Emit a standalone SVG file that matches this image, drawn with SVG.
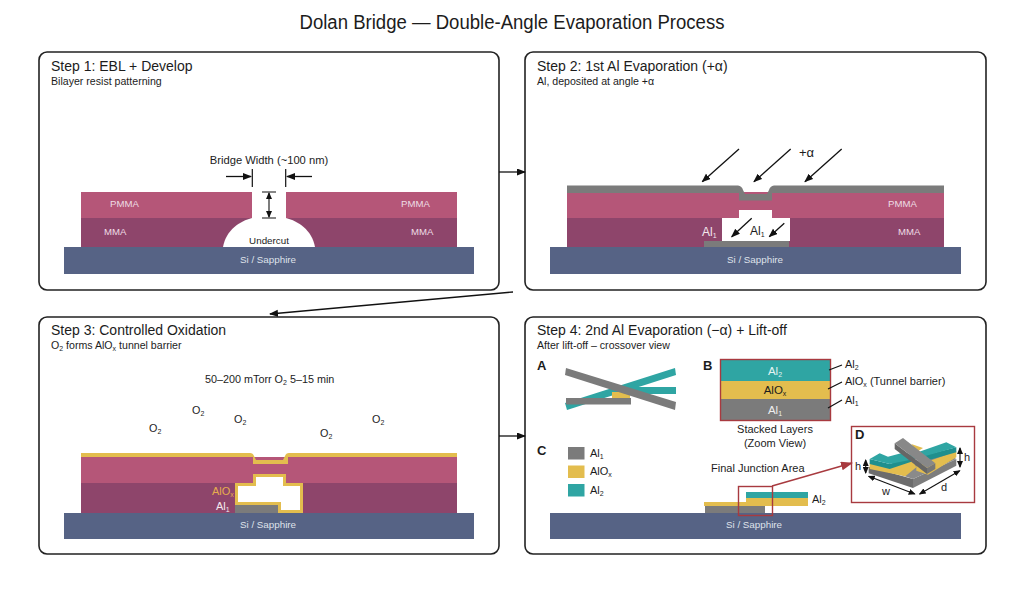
<svg xmlns="http://www.w3.org/2000/svg" width="1024" height="597" viewBox="0 0 1024 597">
<defs>
<style>
text{font-family:"Liberation Sans",Arial,sans-serif;fill:#1c1c1c}
.panel{fill:#fff;stroke:#222;stroke-width:1.6}
.h{font-size:14px}.s{font-size:10.6px}
.pmma{fill:#b55678}.mma{fill:#8e456b}.sub{fill:#566385}
.al1{fill:#7b7b7b}.ox{fill:#e3bd4e}.al2{fill:#2fa5a3}.w{fill:#fff}
.l{font-size:9.6px;fill:#eeddE5}.si{font-size:9.8px;fill:#dfe2ea;text-anchor:middle}
.t{font-size:11px}.c{text-anchor:middle}.b{font-size:13px;font-weight:bold}
.arr{stroke:#111;stroke-width:1.3;fill:none;marker-end:url(#a)}
.dbl{stroke:#111;stroke-width:1.1;fill:none;marker-end:url(#m);marker-start:url(#m)}
.tick{stroke:#111;stroke-width:1.2;fill:none}
.con{stroke:#111;stroke-width:1.3;fill:none;marker-end:url(#a)}
.red{stroke:#a83a3f;fill:none;stroke-width:1.4}
</style>
<marker id="a" markerWidth="9" markerHeight="8" refX="8" refY="3.5" orient="auto" markerUnits="userSpaceOnUse"><path d="M0,0L9,3.5L0,7Z" fill="#111"/></marker>
<marker id="m" markerWidth="7" markerHeight="6" refX="6" refY="3" orient="auto-start-reverse" markerUnits="userSpaceOnUse"><path d="M0,0L7,3L0,6Z" fill="#111"/></marker>
<marker id="r" markerWidth="12" markerHeight="10" refX="11" refY="4.5" orient="auto" markerUnits="userSpaceOnUse"><path d="M0,0L12,4.5L0,9Z" fill="#a83a3f"/></marker>
</defs>
<rect width="1024" height="597" fill="#fff"/>
<text id="title" x="512" y="29" class="c" font-size="20" textLength="425" lengthAdjust="spacingAndGlyphs">Dolan Bridge — Double-Angle Evaporation Process</text>

<g id="step1">
<rect class="panel" x="39" y="52" width="460" height="238" rx="8"/>
<text class="h" x="51" y="71">Step 1: EBL + Develop</text>
<text class="s" x="51" y="85">Bilayer resist patterning</text>
<rect class="pmma" x="81" y="192" width="376" height="26"/>
<rect class="mma" x="81" y="218" width="376" height="29"/>
<rect class="w" x="252" y="192" width="34" height="27"/>
<path class="w" d="M223,247C226,230 240,221 252,218H286C298,221 312,230 315,247Z"/>
<rect class="sub" x="64" y="247" width="410" height="27"/>
<text class="l" x="110" y="207">PMMA</text><text class="l" x="104" y="235">MMA</text>
<text class="l" x="401" y="207">PMMA</text><text class="l" x="411" y="235">MMA</text>
<text class="si" x="268" y="263">Si / Sapphire</text>
<text class="c" x="269" y="244" font-size="9.8">Undercut</text>
<text class="c" x="269" y="164" font-size="11.2">Bridge Width (~100 nm)</text>
<path class="tick" d="M252.3,169V187M285.7,169V187M262,192H276M262,218H276"/>
<path class="arr" d="M226,176.500H251"/><path class="arr" d="M312,176.500H287"/>
<path class="dbl" d="M269,193V217"/>
</g>

<g id="step2">
<rect class="panel" x="525" y="52" width="461" height="238" rx="8"/>
<text class="h" x="537" y="71">Step 2: 1st Al Evaporation (+α)</text>
<text class="s" x="537" y="85">Al, deposited at angle +α</text>
<rect class="pmma" x="567" y="192" width="377" height="26"/>
<rect class="mma" x="567" y="218" width="377" height="29"/>
<path class="al1" d="M567,185.500H738Q742,186 743,190L745,194H767L769,190Q770,186 774,185.500H944V193H772V200.500H739V193H567Z"/>
<path class="w" d="M739,210H772V218H790V241H722V218H739Z"/>
<rect class="al1" x="704" y="241" width="85" height="6"/>
<rect class="sub" x="550" y="247" width="411" height="27"/>
<text class="l" x="888" y="207">PMMA</text><text class="l" x="898" y="235">MMA</text>
<text class="si" x="755" y="263">Si / Sapphire</text>
<text x="702" y="236" font-size="12" style="fill:#f3e8ee">Al<tspan font-size="7" dy="2">1</tspan></text>
<text x="750" y="235" font-size="12">Al<tspan font-size="7" dy="2">1</tspan></text>
<text x="799" y="157" font-size="13">+α</text>
<path class="arr" d="M739,149L702.300,181.700"/><path class="arr" d="M790.700,149L754,181.700"/><path class="arr" d="M841.700,149L805,181.700"/>
<path class="arr" d="M751.700,218.300L731.700,236.700"/><path class="arr" d="M784.300,223.300L769.300,236.700"/>
</g>

<g id="step3">
<rect class="panel" x="39" y="317" width="460" height="237" rx="8"/>
<text class="h" x="51" y="335">Step 3: Controlled Oxidation</text>
<text class="s" x="51" y="349">O<tspan font-size="7" dy="2">2</tspan><tspan dy="-2"> forms AlO</tspan><tspan font-size="7" dy="2">x</tspan><tspan dy="-2"> tunnel barrier</tspan></text>
<text x="205" y="383" font-size="10.800">50–200 mTorr O<tspan font-size="7" dy="2">2</tspan><tspan dy="-2"> 5–15 min</tspan></text>
<text x="149" y="432" font-size="10.800">O<tspan font-size="7" dy="2">2</tspan></text>
<text x="192" y="414" font-size="10.800">O<tspan font-size="7" dy="2">2</tspan></text>
<text x="234" y="423" font-size="10.800">O<tspan font-size="7" dy="2">2</tspan></text>
<text x="320" y="437" font-size="10.800">O<tspan font-size="7" dy="2">2</tspan></text>
<text x="372" y="423" font-size="10.800">O<tspan font-size="7" dy="2">2</tspan></text>
<rect class="pmma" x="81" y="457" width="376" height="26"/>
<rect class="mma" x="81" y="483" width="376" height="30"/>
<path class="ox" d="M81,453H250Q253,453 254,456L256,460H283L285,456Q286,453 289,453H457V457H288V464H253V457H81Z"/>
<path class="ox" d="M253,474H286V483H303V513H235V483H253Z"/>
<path class="w" d="M256,477H283V486H300V510H281V502H238V486H256Z"/>
<rect class="al1" x="235" y="505" width="43" height="8"/>
<rect class="sub" x="64" y="513" width="410" height="26"/>
<text class="si" x="268" y="528">Si / Sapphire</text>
<text x="212" y="495" font-size="11" style="fill:#e6ad4e">AlO<tspan font-size="7" dy="2">x</tspan></text>
<text x="216" y="510" font-size="11" style="fill:#f3e8ee">Al<tspan font-size="7" dy="2">1</tspan></text>
</g>

<g id="step4">
<rect class="panel" x="525" y="317" width="461" height="237" rx="8"/>
<text class="h" x="537" y="335">Step 4: 2nd Al Evaporation (−α) + Lift-off</text>
<text class="s" x="537" y="349">After lift-off – crossover view</text>

<g id="viewA">
<text class="b" x="537" y="370">A</text>
<path class="al2" d="M565,403L675,368L676,375L567,410Z"/>
<rect class="al2" x="618" y="387" width="58" height="7"/>
<rect class="ox" x="612" y="392" width="18" height="6"/>
<rect class="al1" x="566" y="398" width="65" height="6.500"/>
<path class="al1" d="M566,368L676,402L675,410L565,375Z"/>
</g>

<g id="viewB">
<text class="b" x="703" y="370">B</text>
<rect class="al2" x="720" y="359" width="111" height="22"/>
<rect class="ox" x="720" y="381" width="111" height="18"/>
<rect class="al1" x="720" y="399" width="111" height="22"/>
<rect class="red" x="720.500" y="359.500" width="110" height="61"/>
<text class="c" x="775" y="375" font-size="11.500" style="fill:#e4f3f2">Al<tspan font-size="7" dy="2">2</tspan></text>
<text class="c" x="775" y="394" font-size="11.500">AlO<tspan font-size="7" dy="2">x</tspan></text>
<text class="c" x="775" y="414" font-size="11.500" style="fill:#eee">Al<tspan font-size="7" dy="2">1</tspan></text>
<path class="tick" d="M829,370L842,365M828,389L842,382M828,408L842,400" stroke-width="1"/>
<text class="t" x="845" y="368">Al<tspan font-size="7" dy="2">2</tspan></text>
<text class="t" x="845" y="385">AlO<tspan font-size="7" dy="2">x</tspan><tspan dy="-2"> (Tunnel barrier)</tspan></text>
<text class="t" x="845" y="404">Al<tspan font-size="7" dy="2">1</tspan></text>
<text class="t c" x="775" y="433">Stacked Layers</text>
<text class="t c" x="775" y="447">(Zoom View)</text>
</g>

<g id="viewC">
<text class="b" x="537" y="455">C</text>
<rect class="al1" x="568" y="447" width="16.500" height="12.500"/>
<rect class="ox" x="568" y="465.500" width="16.500" height="12.500"/>
<rect class="al2" x="568" y="484" width="16.500" height="12.500"/>
<text class="t" x="590" y="457">Al<tspan font-size="7" dy="2">1</tspan></text>
<text class="t" x="590" y="475">AlO<tspan font-size="7" dy="2">x</tspan></text>
<text class="t" x="590" y="494">Al<tspan font-size="7" dy="2">2</tspan></text>
</g>

<g id="junction">
<rect class="sub" x="550" y="513" width="411" height="26"/>
<rect class="al1" x="705" y="506" width="60" height="7"/>
<rect class="ox" x="704" y="502" width="104" height="4"/>
<rect class="ox" x="746" y="498" width="62" height="8"/>
<rect class="al2" x="746" y="492" width="62" height="6"/>
<text class="si" x="754" y="528">Si / Sapphire</text>
<text class="t" x="711" y="472">Final Junction Area</text>
<text class="t" x="812" y="503">Al<tspan font-size="7" dy="2">2</tspan></text>
<rect class="red" x="738.500" y="486.500" width="34" height="29"/>
<path class="red" d="M772,486L852,463" marker-end="url(#r)"/>
</g>

<g id="viewD">
<rect class="red" x="851.500" y="426.500" width="123" height="76"/>
<text class="b" x="855" y="439">D</text>
<g transform="translate(848 424) scale(.3333)">
<path fill="#6c6c6c" d="M62,128V148L195,192V165Z"/>
<path fill="#7d7d7d" d="M195,165V192L325,125V105Z"/>
<path fill="#8a8a8a" d="M105,135L195,165L325,105L300,90L160,120Z"/>
<path class="ox" d="M65,118V135L172,157L205,130L195,112L125,125Z"/>
<path class="ox" d="M205,125L325,82V100L240,152L205,140Z"/>
<path class="ox" d="M190,60L225,72L205,85Z"/>
<path fill="#1f8f8d" d="M65,105V120L125,135L190,113V98L125,120Z"/>
<path fill="#1f8f8d" d="M205,100L325,70V85L225,113Z"/>
<path class="al2" d="M65,105L95,88L120,98L170,85L188,92L295,55L325,70L200,105L125,120Z"/>
<path fill="#666" d="M140,58V75L237,150V132Z"/>
<path fill="#767676" d="M237,132V150L262,135V118Z"/>
<path fill="#888" d="M140,58L165,42L262,118L237,132Z"/>
</g>
<path class="dbl" d="M865.700,460V473"/>
<path class="dbl" d="M960,448V467"/>
<path class="dbl" d="M868.700,476.300L914.700,494"/>
<path class="dbl" d="M919.700,494L959.700,470.700"/>
<text class="t" x="855" y="470" font-size="12">h</text>
<text class="t" x="964" y="461" font-size="12">h</text>
<text class="t" x="882" y="495" font-size="12">w</text>
<text class="t" x="941" y="491" font-size="12">d</text>
</g>
</g>

<g id="connectors">
<path class="con" d="M499,172H525"/>
<path class="con" d="M513,292L270,314"/>
<path class="con" d="M499,436H525"/>
</g>
</svg>
